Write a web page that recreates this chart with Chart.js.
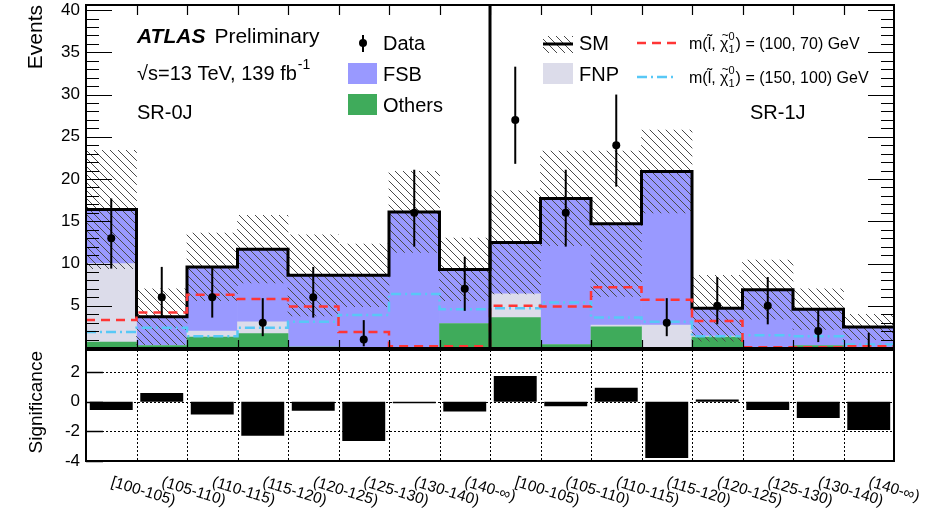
<!DOCTYPE html>
<html>
<head>
<meta charset="utf-8">
<script src="https://cdn.jsdelivr.net/npm/chart.js@4.4.0/dist/chart.umd.min.js"></script>
<style>
    html, body { margin: 0; padding: 0; background: #fff; }
    #wrap { position: relative; width: 935px; height: 509px; overflow: hidden; }
    #mainBox { position: absolute; left: 0; top: 0; width: 935px; height: 352px; }
    #sigBox { position: absolute; left: 0; top: 345px; width: 935px; height: 164px; }
</style>
</head>
<body>
<div id="wrap">
    <div id="mainBox"><canvas id="mainChart"></canvas></div>
    <div id="sigBox"><canvas id="sigChart"></canvas></div>
</div>
<script>
// Bins: SR-0J (first 8) then SR-1J (last 8), mT2 ranges in GeV
const binLabels = ['[100-105)', '(105-110)', '(110-115)', '(115-120)', '(120-125)', '(125-130)', '(130-140)', '(140-\u221e)',
                   '[100-105)', '(105-110)', '(110-115)', '(115-120)', '(120-125)', '(125-130)', '(130-140)', '(140-\u221e)'];

// Background components (events)
const others = [0.7, 0.3, 1.3, 1.7, 0.1, 0.0, 0.0, 2.9, 3.6, 0.4, 2.5, 0.0, 1.3, 0.0, 0.3, 0.0];
const fnp    = [9.3, 0.0, 0.7, 1.4, 0.0, 0.0, 0.0, 0.0, 2.8, 0.0, 0.2, 2.7, 0.1, 0.0, 0.0, 0.0];
const fsb    = [6.4, 3.4, 7.6, 8.6, 8.5, 8.6, 16.1, 6.4, 6.1, 17.3, 12.0, 18.2, 3.3, 6.9, 4.3, 2.5];
const smUnc  = [7.0, 3.3, 4.0, 4.0, 4.8, 3.7, 4.8, 3.7, 6.1, 5.6, 8.6, 4.9, 3.9, 3.5, 2.4, 1.5];

// Observed data with asymmetric errors
const dataObs     = [13, 6, 6, 3, 6, 1, 16, 7, 27, 16, 24, 3, 5, 5, 2, 0];
const dataErrUp   = [4.7, 3.6, 3.6, 2.9, 3.6, 2.3, 5.1, 3.8, 6.3, 5.1, 6.0, 2.9, 3.4, 3.4, 2.6, 1.8];
const dataErrDown = [3.6, 2.4, 2.4, 1.6, 2.4, 0.8, 4.0, 2.6, 5.2, 4.0, 4.9, 1.6, 2.2, 2.2, 1.3, 0.0];

// Signal benchmarks
const sig100_70  = [3.3, 4.2, 6.3, 5.8, 4.9, 1.9, 0.2, 0.2, 5.0, 4.9, 7.2, 5.7, 3.2, 0.1, 0.1, 0.2];
const sig150_100 = [1.9, 2.4, 1.4, 2.4, 3.1, 3.9, 6.4, 4.6, 4.7, 5.4, 3.6, 3.1, 1.4, 1.5, 1.4, 0.4];

// Lower panel
const significance = [-0.55, 0.6, -0.85, -2.3, -0.6, -2.65, -0.1, -0.65, 1.75, -0.3, 0.95, -3.8, 0.15, -0.55, -1.1, -1.9];

const yTicksMain = [5, 10, 15, 20, 25, 30, 35, 40];
const yTicksSig = [2, 0, -2, -4];

const FONT = '"Liberation Sans", Arial, Helvetica, sans-serif';
const nBins = binLabels.length;

const smTotal = others.map((v, i) => v + fnp[i] + fsb[i]);
const cumFnp = others.map((v, i) => v + fnp[i]);
const smUp = smTotal.map((v, i) => v + smUnc[i]);
const smDown = smTotal.map((v, i) => Math.max(0, v - smUnc[i]));

function barData(vals) {
    return vals.map((v, i) => ({ x: i + 0.5, y: v }));
}
// floating bars [low, high] for the uncertainty band
function bandData(lo, hi) {
    return lo.map((v, i) => ({ x: i + 0.5, y: [v, hi[i]] }));
}
// points at bin edges, repeated last value so the step covers the last bin
function stepData(vals) {
    const pts = vals.map((v, i) => ({ x: i, y: v }));
    pts.push({ x: nBins, y: vals[nBins - 1] });
    return pts;
}

const mainCanvas = document.getElementById('mainChart');
const mainCtx = mainCanvas.getContext('2d');

function makeHatch() {
    const tile = document.createElement('canvas');
    tile.width = 8;
    tile.height = 8;
    const g = tile.getContext('2d');
    g.strokeStyle = '#4a4a4a';
    g.lineWidth = 1;
    g.beginPath();
    g.moveTo(0, 0); g.lineTo(8, 8);
    g.moveTo(-4, 4); g.lineTo(4, 12);
    g.moveTo(4, -4); g.lineTo(12, 4);
    g.stroke();
    return mainCtx.createPattern(tile, 'repeat');
}
const hatch = makeHatch();

const COL_FSB = '#9999ff';
const COL_FNP = '#dcdcea';
const COL_OTHERS = '#3fab5b';
const COL_RED = '#ff3535';
const COL_BLUE = '#58c8f6';
const DASH_RED = [9, 6];
const DASH_BLUE = [10, 4, 2, 4];

function stepLine(vals, extra) {
    return Object.assign({
        type: 'line',
        data: stepData(vals),
        stepped: true,
        pointRadius: 0,
        fill: false,
        borderWidth: 0
    }, extra);
}

// no extra room for half tick labels: the frame sits right at the padding
function fixAxis(s) {
    s.width = 86;
    s.paddingTop = 0;
    s.paddingBottom = 0;
}

function drawMassLabel(ctx, x, y, a, b) {
    ctx.font = '16px ' + FONT;
    const s1 = 'm(l\u0303, ';
    ctx.fillText(s1, x, y);
    let w = ctx.measureText(s1).width;
    const wChi = ctx.measureText('\u03c7').width;
    ctx.fillText('\u03c7', x + w, y);
    ctx.font = '12px ' + FONT;
    ctx.textAlign = 'center';
    ctx.fillText('~', x + w + wChi / 2 + 1, y - 10);
    ctx.textAlign = 'left';
    w += wChi;
    ctx.font = '11px ' + FONT;
    ctx.fillText('1', x + w, y + 4);
    ctx.fillText('0', x + w, y - 9);
    w += ctx.measureText('0').width + 1;
    ctx.font = '16px ' + FONT;
    ctx.fillText(') = (' + a + ', ' + b + ') GeV', x + w, y);
}

const errorBars = {
    id: 'errorBars',
    afterDatasetsDraw(chart) {
        const { ctx, scales: { x, y } } = chart;
        ctx.save();
        ctx.strokeStyle = '#000';
        ctx.lineWidth = 2;
        dataObs.forEach((v, i) => {
            const px = x.getPixelForValue(i + 0.5);
            ctx.beginPath();
            ctx.moveTo(px, y.getPixelForValue(v - dataErrDown[i]));
            ctx.lineTo(px, y.getPixelForValue(v + dataErrUp[i]));
            ctx.stroke();
        });
        ctx.restore();
    }
};

const mainFrame = {
    id: 'mainFrame',
    afterDraw(chart) {
        const { ctx, chartArea: a, scales: { x, y } } = chart;
        ctx.save();
        ctx.strokeStyle = '#000';
        ctx.fillStyle = '#000';

        // inward ticks on the y axis (both sides)
        ctx.lineWidth = 1.2;
        for (let v = 1; v <= 40; v++) {
            const py = Math.round(y.getPixelForValue(v)) + 0.5;
            const len = v % 5 === 0 ? 26 : 13;
            ctx.beginPath();
            ctx.moveTo(a.left, py); ctx.lineTo(a.left + len, py);
            ctx.moveTo(a.right, py); ctx.lineTo(a.right - len, py);
            ctx.stroke();
        }
        // ticks on the bin edges
        for (let i = 1; i < nBins; i++) {
            const px = Math.round(x.getPixelForValue(i)) + 0.5;
            ctx.beginPath();
            ctx.moveTo(px, a.top); ctx.lineTo(px, a.top + 10);
            ctx.moveTo(px, a.bottom); ctx.lineTo(px, a.bottom - 8);
            ctx.stroke();
        }
        // SR-0J / SR-1J divider
        ctx.lineWidth = 3;
        const xd = x.getPixelForValue(nBins / 2);
        ctx.beginPath();
        ctx.moveTo(xd, a.top); ctx.lineTo(xd, a.bottom);
        ctx.stroke();
        // frame
        ctx.lineWidth = 2;
        ctx.strokeRect(a.left, a.top, a.right - a.left, a.bottom - a.top);

        // axis title
        ctx.save();
        ctx.translate(42, a.top);
        ctx.rotate(-Math.PI / 2);
        ctx.textAlign = 'right';
        ctx.font = '21px ' + FONT;
        ctx.fillText('Events', 0, 0);
        ctx.restore();

        // ATLAS label
        ctx.textAlign = 'left';
        ctx.textBaseline = 'alphabetic';
        ctx.font = 'italic bold 21px ' + FONT;
        ctx.fillText('ATLAS', 137, 43);
        const wA = ctx.measureText('ATLAS').width;
        ctx.font = '21px ' + FONT;
        ctx.fillText('Preliminary', 137 + wA + 9, 43);
        ctx.font = '20px ' + FONT;
        const eText = '\u221as=13 TeV, 139 fb';
        ctx.fillText(eText, 137, 80);
        const wE = ctx.measureText(eText).width;
        ctx.font = '14px ' + FONT;
        ctx.fillText('-1', 137 + wE + 1, 69);
        ctx.font = '20px ' + FONT;
        ctx.fillText('SR-0J', 137, 119);
        ctx.fillText('SR-1J', 750, 119);

        // legend: left column
        ctx.lineWidth = 2;
        ctx.beginPath();
        ctx.moveTo(363, 35); ctx.lineTo(363, 52);
        ctx.stroke();
        ctx.beginPath();
        ctx.arc(363, 43, 4, 0, Math.PI * 2);
        ctx.fill();
        ctx.fillStyle = COL_FSB;
        ctx.fillRect(348, 63, 29, 21);
        ctx.fillStyle = COL_OTHERS;
        ctx.fillRect(348, 94, 29, 21);
        ctx.fillStyle = '#000';
        ctx.font = '20px ' + FONT;
        ctx.fillText('Data', 383, 50);
        ctx.fillText('FSB', 383, 81);
        ctx.fillText('Others', 383, 112);

        // legend: right column
        ctx.fillStyle = hatch;
        ctx.fillRect(543, 36, 30, 17);
        ctx.lineWidth = 3;
        ctx.beginPath();
        ctx.moveTo(543, 44); ctx.lineTo(573, 44);
        ctx.stroke();
        ctx.fillStyle = COL_FNP;
        ctx.fillRect(543, 63, 30, 21);
        ctx.fillStyle = '#000';
        ctx.fillText('SM', 579, 50);
        ctx.fillText('FNP', 579, 81);

        ctx.lineWidth = 2.5;
        ctx.strokeStyle = COL_RED;
        ctx.setLineDash(DASH_RED);
        ctx.beginPath();
        ctx.moveTo(637, 43); ctx.lineTo(676, 43);
        ctx.stroke();
        ctx.strokeStyle = COL_BLUE;
        ctx.setLineDash(DASH_BLUE);
        ctx.beginPath();
        ctx.moveTo(637, 77); ctx.lineTo(676, 77);
        ctx.stroke();
        ctx.setLineDash([]);
        drawMassLabel(ctx, 689, 49, 100, 70);
        drawMassLabel(ctx, 689, 83, 150, 100);

        ctx.restore();
    }
};

new Chart(mainCtx, {
    type: 'bar',
    data: {
        datasets: [
            { label: 'FSB', data: barData(smTotal), backgroundColor: COL_FSB, order: 10 },
            { label: 'FNP', data: barData(cumFnp), backgroundColor: COL_FNP, order: 9 },
            { label: 'Others', data: barData(others), backgroundColor: COL_OTHERS, order: 8 },
            { label: 'SM unc.', data: bandData(smDown, smUp), backgroundColor: hatch, order: 7 },
            stepLine(smTotal, { label: 'SM', borderColor: '#000', borderWidth: 3, order: 6 }),
            stepLine(sig100_70, { label: '(100, 70)', borderColor: COL_RED, borderWidth: 2.5, borderDash: DASH_RED, order: 5 }),
            stepLine(sig150_100, { label: '(150, 100)', borderColor: COL_BLUE, borderWidth: 2.5, borderDash: DASH_BLUE, order: 5 }),
            {
                type: 'line',
                label: 'Data',
                data: barData(dataObs),
                showLine: false,
                pointRadius: ctx => (ctx.raw && ctx.raw.y > 0 ? 4 : 0),
                pointBackgroundColor: '#000',
                pointBorderWidth: 0,
                order: 1
            }
        ]
    },
    options: {
        responsive: true,
        maintainAspectRatio: false,
        animation: false,
        layout: { padding: { top: 5, bottom: 3, left: 0, right: 41 } },
        datasets: {
            bar: { grouped: false, barPercentage: 1, categoryPercentage: 1, borderWidth: 0 }
        },
        plugins: {
            legend: { display: false },
            tooltip: { enabled: false }
        },
        scales: {
            x: { type: 'linear', min: 0, max: nBins, offset: false, display: false },
            y: {
                min: 0,
                max: 40.6,
                afterBuildTicks: s => { s.ticks = yTicksMain.map(v => ({ value: v })); },
                afterFit: fixAxis,
                grid: { display: false, drawTicks: false },
                border: { display: false },
                ticks: { color: '#000', padding: 6, font: { family: FONT, size: 17 } }
            }
        }
    },
    plugins: [errorBars, mainFrame]
});

const sigGrid = {
    id: 'sigGrid',
    beforeDatasetsDraw(chart) {
        const { ctx, chartArea: a, scales: { x, y } } = chart;
        ctx.save();
        ctx.strokeStyle = '#000';
        ctx.lineWidth = 1;
        ctx.setLineDash([2, 2]);
        for (let i = 1; i < nBins; i++) {
            const px = Math.round(x.getPixelForValue(i)) + 0.5;
            ctx.beginPath();
            ctx.moveTo(px, a.top); ctx.lineTo(px, a.bottom);
            ctx.stroke();
        }
        yTicksSig.forEach(v => {
            const py = Math.round(y.getPixelForValue(v)) + 0.5;
            ctx.beginPath();
            ctx.moveTo(a.left, py); ctx.lineTo(a.right, py);
            ctx.stroke();
        });
        ctx.restore();
    },
    afterDraw(chart) {
        const { ctx, chartArea: a, scales: { x, y } } = chart;
        ctx.save();
        ctx.strokeStyle = '#000';
        ctx.fillStyle = '#000';

        // short inward ticks at the labelled values
        ctx.lineWidth = 1.5;
        yTicksSig.forEach(v => {
            const py = Math.round(y.getPixelForValue(v)) + 0.5;
            ctx.beginPath();
            ctx.moveTo(a.left, py); ctx.lineTo(a.left + 17, py);
            ctx.stroke();
        });

        ctx.lineWidth = 2;
        ctx.strokeRect(a.left, a.top, a.right - a.left, a.bottom - a.top);

        ctx.save();
        ctx.translate(42, a.top + 1);
        ctx.rotate(-Math.PI / 2);
        ctx.textAlign = 'right';
        ctx.font = '19px ' + FONT;
        ctx.fillText('Significance', 0, 0);
        ctx.restore();

        ctx.font = '15.5px ' + FONT;
        ctx.textAlign = 'left';
        ctx.textBaseline = 'alphabetic';
        binLabels.forEach((lab, i) => {
            const px = x.getPixelForValue(i + 0.5) - 1;
            ctx.save();
            ctx.translate(px, a.bottom + 25);
            ctx.rotate(17 * Math.PI / 180);
            ctx.fillText(lab, 0, 0);
            ctx.restore();
        });
        ctx.restore();
    }
};

new Chart(document.getElementById('sigChart'), {
    type: 'bar',
    data: {
        datasets: [{
            label: 'Significance',
            data: barData(significance),
            backgroundColor: '#000',
            borderWidth: 0,
            barPercentage: 0.85,
            categoryPercentage: 1
        }]
    },
    options: {
        responsive: true,
        maintainAspectRatio: false,
        animation: false,
        layout: { padding: { top: 5, bottom: 48, left: 0, right: 41 } },
        plugins: {
            legend: { display: false },
            tooltip: { enabled: false }
        },
        scales: {
            x: { type: 'linear', min: 0, max: nBins, offset: false, display: false },
            y: {
                min: -4,
                max: 3.5,
                afterBuildTicks: s => { s.ticks = yTicksSig.map(v => ({ value: v })); },
                afterFit: fixAxis,
                grid: { display: false, drawTicks: false },
                border: { display: false },
                ticks: { color: '#000', padding: 6, font: { family: FONT, size: 17 } }
            }
        }
    },
    plugins: [sigGrid]
});
</script>
</body>
</html>
